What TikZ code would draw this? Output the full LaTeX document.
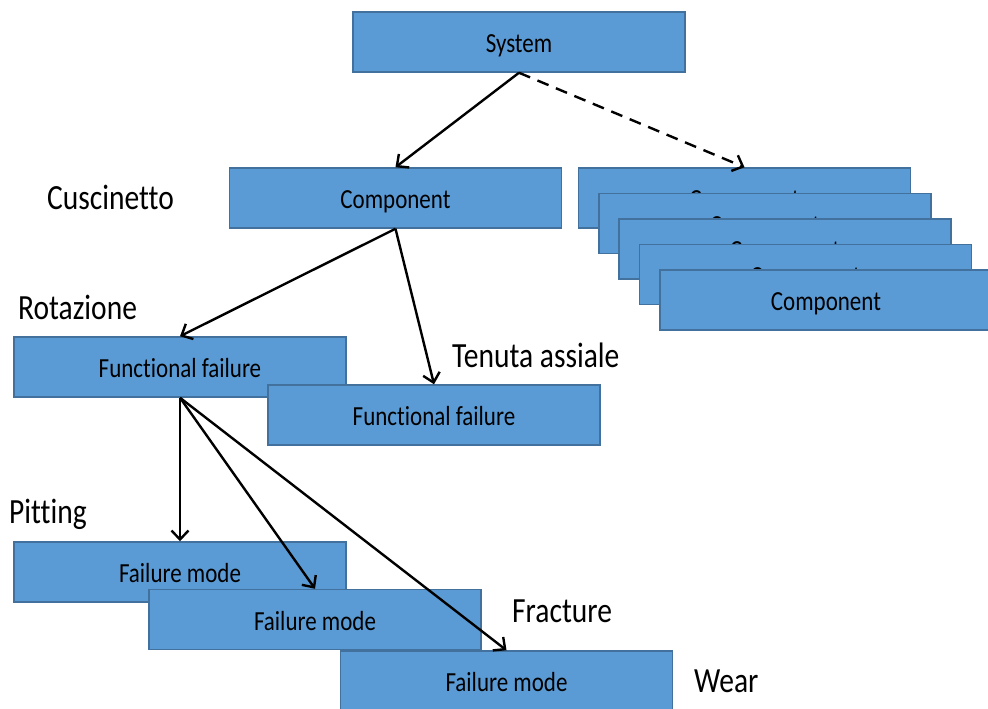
\documentclass[tikz,border=0pt]{standalone}
\usepackage{graphicx}
\usepackage{fontspec}
\setmainfont{Carlito}[Ligatures=NoCommon]
\usetikzlibrary{arrows.meta}
\definecolor{boxblue}{HTML}{5B9BD5}
\definecolor{boxline}{HTML}{41719C}
\newcommand{\tall}[1]{\scalebox{1}[1.2]{#1}}
\begin{document}
\begin{tikzpicture}[x=1pt,y=-1pt,
  box/.style={draw=boxline,fill=boxblue,line width=1.5pt,minimum width=332pt,minimum height=60pt,inner sep=0pt,text height=23pt,text depth=2pt,font=\fontsize{23}{27}\selectfont},
  lbl/.style={anchor=west,inner sep=0pt,font=\fontsize{29.5}{35}\selectfont},
  link/.style={line width=2.4pt,-{Straight Barb[length=9pt,width=17pt,line width=2.4pt]}}]
\useasboundingbox (0,0) rectangle (988,709);

   \node[box] at (519,42)  (sys) {\tall{System}};
   \node[box] at (395.5,198)  (comp) {\tall{Component}};

   % stacked components
   \node[box] at (744.5,198)  (comp1) {\tall{Component}};
   \node[box] at (765,223.5)  (comp2) {\tall{Component}};
   \node[box] at (785,249)  (comp3) {\tall{Component}};
   \node[box] at (805.5,274.5)  (comp4) {\tall{Component}};
   \node[box] at (826,300)  (comp5) {\tall{Component}};

   \node[box] at (180,367)  (ff1) {\tall{Functional failure}};
   \node[box] at (434,415)  (ff2) {\tall{Functional failure}};

   \node[box] at (180,572)  (fm1) {\tall{Failure mode}};
   \node[box] at (315,619.5)  (fm2) {\tall{Failure mode}};
   \node[box] at (506.5,681)  (fm3) {\tall{Failure mode}};

   \node[lbl] at (47,197)  (cusc) {\tall{Cuscinetto}};
   \node[lbl] at (18,307)  (rot) {\tall{Rotazione}};
   \node[lbl] at (452,355)  (ten) {\tall{Tenuta assiale}};
   \node[lbl] at (9,514)  (pit) {\tall{Pitting}};
   \node[lbl] at (512,611)  (frac) {\tall{Fracture}};
   \node[lbl] at (694,681)  (wear) {\tall{Wear}};

    \draw[link] (sys.south) -- (comp.north);
    \draw[link,dash pattern=on 12pt off 8pt] (sys.south) -- (comp1.north);
    \draw[link] (comp.south) -- (ff1.north);
    \draw[link] (comp.south) -- (ff2.north);
    \draw[link] (ff1.south) -- (fm1.north);
    \draw[link] (ff1.south) -- (fm2.north);
    \draw[link] (ff1.south) -- (fm3.north);

    \end{tikzpicture}
\end{document}
